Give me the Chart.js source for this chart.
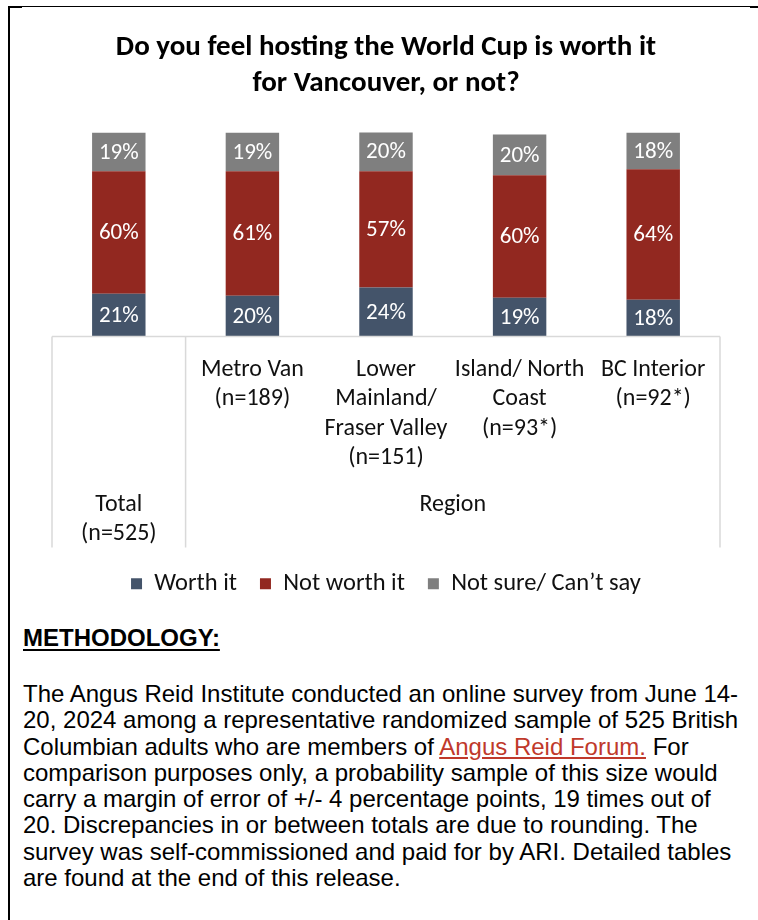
<!DOCTYPE html>
<html>
<head>
<meta charset="utf-8">
<title>World Cup worth it for Vancouver</title>
<script src="https://cdn.jsdelivr.net/npm/chart.js@4.4.1/dist/chart.umd.min.js"></script>
<style>
    html, body { margin: 0; padding: 0; background: #fff; }
    #page { position: relative; width: 758px; height: 920px; overflow: hidden; }
    .rule { position: absolute; background: #000; }
    #chartBox { position: absolute; left: 0; top: 0; width: 758px; height: 610px; }
    #method {
        position: absolute; left: 23px; top: 624px; width: 732px;
        font-family: "Liberation Sans", Arial, sans-serif; color: #000;
    }
    #method h2 {
        margin: 0; font-size: 24px; line-height: 28px; font-weight: bold;
        text-decoration: underline; text-decoration-thickness: 2px; text-underline-offset: 3px;
    }
    #method p { margin: 29px 0 0 0; font-size: 24px; line-height: 26.3px; white-space: nowrap; }
    #method .link { color: #C0392B; text-decoration: underline; }
</style>
</head>
<body>
<div id="page">
    <div class="rule" style="left:8px; top:6px; width:750px; height:1px;"></div>
    <div class="rule" style="left:8px; top:6px; width:14px; height:2px;"></div>
    <div class="rule" style="left:750px; top:6px; width:8px; height:2px;"></div>
    <div class="rule" style="left:8px; top:6px; width:2px; height:914px;"></div>

    <div id="chartBox"><canvas id="chart"></canvas></div>

    <div id="method">
        <h2>METHODOLOGY:</h2>
        <p>The Angus Reid Institute conducted an online survey from June 14-<br>20, 2024 among a representative randomized sample of 525 British<br>Columbian adults who are members of <span class="link">Angus Reid Forum.</span> For<br>comparison purposes only, a probability sample of this size would<br>carry a margin of error of +/- 4 percentage points, 19 times out of<br>20. Discrepancies in or between totals are due to rounding. The<br>survey was self-commissioned and paid for by ARI. Detailed tables<br>are found at the end of this release.</p>
    </div>
</div>

<script>
// categories and their axis labels (first level), groups (second level)
const categories = ['Total', 'Metro Van', 'Lower Mainland/ Fraser Valley', 'Island/ North Coast', 'BC Interior'];
const tickLabels = [
    [''],
    ['Metro Van', '(n=189)'],
    ['Lower', 'Mainland/', 'Fraser Valley', '(n=151)'],
    ['Island/ North', 'Coast', '(n=93*)'],
    ['BC Interior', '(n=92*)']
];
const groupLabels = [['Total', '(n=525)'], ['Region']];
const groupStart = [0, 1];
const groupEnd = [0, 4];

// series (percent)
const seriesNames = ['Worth it', 'Not worth it', 'Not sure/ Can\u2019t say'];
const worthIt = [21, 20, 24, 19, 18];
const notWorthIt = [60, 61, 57, 60, 64];
const notSure = [19, 19, 20, 20, 18];

const FONT = 'Carlito, Calibri, Lato, sans-serif';
const TEXT = '#111';
const LINE_H = 29.3;

// white value labels in the middle of each segment
const segmentLabels = {
    id: 'segmentLabels',
    afterDatasetsDraw(chart) {
        const ctx = chart.ctx;
        ctx.save();
        ctx.font = '23px ' + FONT;
        ctx.fillStyle = '#fff';
        ctx.textAlign = 'center';
        ctx.textBaseline = 'middle';
        chart.data.datasets.forEach((ds, i) => {
            chart.getDatasetMeta(i).data.forEach((bar, j) => {
                const p = bar.getCenterPoint();
                ctx.fillText(ds.data[j] + '%', p.x, p.y + 1);
            });
        });
        ctx.restore();
    }
};

// excel-style multi level category axis: divider lines + group labels
const groupAxis = {
    id: 'groupAxis',
    afterDraw(chart) {
        const xs = chart.scales.x;
        const ctx = chart.ctx;
        const n = xs.ticks.length;
        const step = xs.width / n;
        const edge = i => xs.getPixelForValue(i) - step / 2;
        const top = chart.chartArea.bottom;
        const bottom = xs.bottom - 1;

        ctx.save();
        ctx.strokeStyle = '#D9D9D9';
        ctx.lineWidth = 1.5;
        ctx.beginPath();
        ctx.moveTo(edge(0), top);
        ctx.lineTo(edge(n), top);
        groupStart.forEach(g => {
            ctx.moveTo(edge(g), top);
            ctx.lineTo(edge(g), bottom);
        });
        ctx.moveTo(edge(n), top);
        ctx.lineTo(edge(n), bottom);
        ctx.stroke();

        ctx.fillStyle = TEXT;
        ctx.font = '24px ' + FONT;
        ctx.textAlign = 'center';
        ctx.textBaseline = 'middle';
        groupLabels.forEach((lines, g) => {
            const cx = (edge(groupStart[g]) + edge(groupEnd[g] + 1)) / 2;
            lines.forEach((line, k) => ctx.fillText(line, cx, xs.top + 168 + k * LINE_H));
        });
        ctx.restore();
    }
};

new Chart(document.getElementById('chart'), {
    type: 'bar',
    data: {
        labels: tickLabels,
        datasets: [
            { label: seriesNames[0], data: worthIt, backgroundColor: '#44546A', borderWidth: 0 },
            { label: seriesNames[1], data: notWorthIt, backgroundColor: '#922820', borderWidth: 0 },
            { label: seriesNames[2], data: notSure, backgroundColor: '#7F7F7F', borderWidth: 0 }
        ]
    },
    options: {
        responsive: true,
        maintainAspectRatio: false,
        animation: false,
        categoryPercentage: 0.8,
        barPercentage: 0.5,
        layout: { padding: { left: 52, right: 38, top: 29.5, bottom: 4 } },
        plugins: {
            title: {
                display: true,
                text: ['Do you feel hosting the World Cup is worth it', 'for Vancouver, or not?'],
                color: '#000',
                font: { family: FONT, size: 29, weight: 'bold', lineHeight: '36px' },
                padding: { top: 0, bottom: 31 }
            },
            legend: {
                position: 'bottom',
                labels: {
                    color: TEXT,
                    boxWidth: 11,
                    boxHeight: 11,
                    padding: 23,
                    font: { family: FONT, size: 24.5 }
                }
            },
            tooltip: { enabled: false }
        },
        scales: {
            x: {
                stacked: true,
                grid: { display: false },
                border: { display: false },
                ticks: {
                    color: TEXT,
                    autoSkip: false,
                    maxRotation: 0,
                    padding: 11,
                    font: { family: FONT, size: 24, lineHeight: LINE_H + 'px' }
                },
                afterFit(scale) { scale.height = 212; }
            },
            y: {
                stacked: true,
                display: false,
                min: 0,
                max: 100
            }
        }
    },
    plugins: [segmentLabels, groupAxis]
});
</script>
</body>
</html>
